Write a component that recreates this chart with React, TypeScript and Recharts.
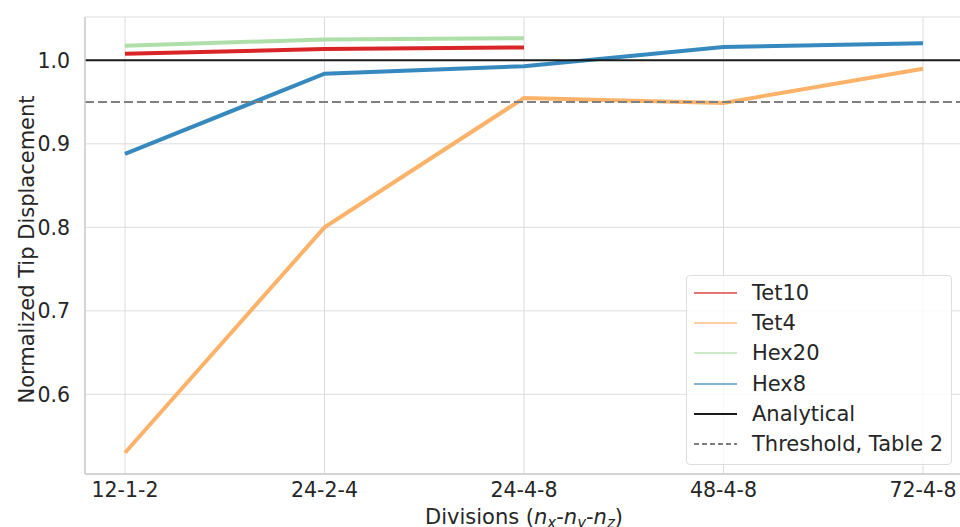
import React from "react";
import {
  CartesianGrid,
  Label,
  Legend,
  Line,
  LineChart,
  ReferenceLine,
  XAxis,
  YAxis,
} from "recharts";

const divisions = ["12-1-2", "24-2-4", "24-4-8", "48-4-8", "72-4-8"];
const tet10 = [1.008, 1.0135, 1.0155, null, null];
const tet4 = [0.53, 0.8, 0.955, 0.949, 0.99];
const hex20 = [1.0175, 1.025, 1.0265, null, null];
const hex8 = [0.888, 0.984, 0.993, 1.016, 1.0205];
const yTicks = [0.6, 0.7, 0.8, 0.9, 1.0];
const analytical = 1.0;
const threshold = 0.95;

const data = divisions.map((d, i) => ({
  division: d,
  Tet10: tet10[i],
  Tet4: tet4[i],
  Hex20: hex20[i],
  Hex8: hex8[i],
}));

const series = [
  { key: "Tet10", color: "#d7191c" },
  { key: "Tet4", color: "#fdae61" },
  { key: "Hex20", color: "#abdda4" },
  { key: "Hex8", color: "#2b83ba" },
];

const legendItems = [
  ...series.map((s) => ({ name: s.key, color: s.color, width: 1.5, dash: undefined as string | undefined, opacity: 0.8 })),
  { name: "Analytical", color: "#1a1a1a", width: 2, dash: undefined, opacity: 1 },
  { name: "Threshold, Table 2", color: "#808080", width: 2, dash: "5 3", opacity: 1 },
];

const textColor = "#262626";

const ChartLegend = () => (
  <div
    style={{
      width: 264,
      height: 186,
      border: "1px solid #dedede",
      borderRadius: 4,
      background: "rgba(255,255,255,0.8)",
      boxSizing: "content-box",
      paddingTop: 2,
    }}
  >
    {legendItems.map((item) => (
      <div key={item.name} style={{ display: "flex", alignItems: "center", height: 30.2 }}>
        <svg width={60} height={10} style={{ flex: "none" }}>
          <line
            x1={7}
            x2={50}
            y1={5}
            y2={5}
            stroke={item.color}
            strokeWidth={item.width}
            strokeDasharray={item.dash}
            strokeOpacity={item.opacity}
          />
        </svg>
        <span style={{ fontSize: 21, color: textColor, marginLeft: 5, whiteSpace: "nowrap" }}>{item.name}</span>
      </div>
    ))}
  </div>
);

const XLabel = (props: any) => {
  const vb = props.viewBox || {};
  const cx = vb.x + vb.width / 2;
  const y = vb.y + 50;
  return (
    <text x={cx} y={y} textAnchor="middle" fill={textColor} fontSize={21}>
      <tspan>Divisions (</tspan>
      <tspan fontStyle="italic">n</tspan>
      <tspan fontStyle="italic" fontSize={15} dy={4}>x</tspan>
      <tspan dy={-4}>-</tspan>
      <tspan fontStyle="italic">n</tspan>
      <tspan fontStyle="italic" fontSize={15} dy={4}>y</tspan>
      <tspan dy={-4}>-</tspan>
      <tspan fontStyle="italic">n</tspan>
      <tspan fontStyle="italic" fontSize={15} dy={4}>z</tspan>
      <tspan dy={-4}>)</tspan>
    </text>
  );
};

const YLabel = (props: any) => {
  const vb = props.viewBox || {};
  const x = 34;
  const cy = vb.y + vb.height / 2 + 4;
  return (
    <text x={x} y={cy} textAnchor="middle" fill={textColor} fontSize={21} transform={`rotate(-90, ${x}, ${cy})`}>
      Normalized Tip Displacement
    </text>
  );
};

export default function App() {
  return (
    <div
      style={{
        position: "absolute",
        left: 0,
        top: 0,
        width: 960,
        height: 527,
        overflow: "hidden",
        background: "#fff",
        fontFamily: "'DejaVu Sans', sans-serif",
      }}
    >
      <LineChart width={972} height={527} data={data} margin={{ top: 17, right: 9, left: 0, bottom: 0 }}>
        <CartesianGrid stroke="#dcdcdc" strokeWidth={1} />
        <XAxis
          dataKey="division"
          padding={{ left: 40, right: 40 }}
          height={53}
          axisLine={{ stroke: "#cccccc", strokeWidth: 1.5 }}
          tickLine={false}
          tickSize={0}
          tickMargin={8}
          tick={{ fill: textColor, fontSize: 20.5 }}
          interval={0}
        >
          <Label content={<XLabel />} />
        </XAxis>
        <YAxis
          width={85}
          type="number"
          domain={[0.5046, 1.0519]}
          ticks={yTicks}
          allowDataOverflow
          tickFormatter={(v: number) => v.toFixed(1)}
          axisLine={{ stroke: "#cccccc", strokeWidth: 1.5 }}
          tickLine={false}
          tickSize={0}
          tickMargin={15}
          tick={{ fill: textColor, fontSize: 20.5 }}
        >
          <Label content={<YLabel />} />
        </YAxis>
        {series.map((s) => (
          <Line
            key={s.key}
            dataKey={s.key}
            stroke={s.color}
            strokeWidth={4}
            strokeOpacity={0.95}
            dot={false}
            activeDot={false}
            type="linear"
            isAnimationActive={false}
          />
        ))}
        <ReferenceLine y={analytical} stroke="#1a1a1a" strokeWidth={2} />
        <ReferenceLine y={threshold} stroke="#808080" strokeWidth={2} strokeDasharray="9 4" />
        <Legend
          layout="vertical"
          align="center"
          verticalAlign="middle"
          wrapperStyle={{ left: 686, top: 275, width: 266 }}
          content={() => <ChartLegend />}
        />
      </LineChart>
    </div>
  );
}
